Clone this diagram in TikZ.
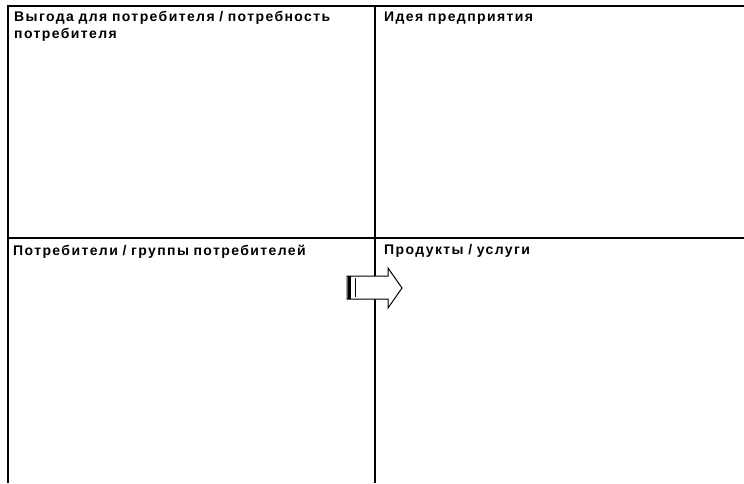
\documentclass[tikz,border=0pt]{standalone}
\usepackage{fontspec}
\setmainfont{Liberation Sans}
\newfontfamily\cellfont[LetterSpace=10]{Liberation Sans}
\usetikzlibrary{positioning}

\begin{document}
\begin{tikzpicture}[
  x=1pt, y=-1pt,
  cell/.style={
    anchor=north west,
    align=left,
    inner sep=0pt,
    text width=355pt,
    font=\cellfont\bfseries\fontsize{14}{17}\selectfont
  },
  grid/.style={line width=1.6pt},
  blockarrow/.style={draw, fill=white, line width=1pt, line join=miter}
]
\useasboundingbox (0,0) rectangle (744,483);

% Grid lines
\draw[grid] (8,483) -- (8,6) -- (744,6);
\draw[grid] (375,6) -- (375,483);
\draw[grid] (8,238) -- (744,238);

% Upper left
\node[cell] (benefit) at (14,11.5) {Выгода для потребителя / потребность\\потребителя};

% Upper right
\node[cell] (idea) at (384,11.5) {Идея предприятия};

% Lower left
\node[cell] (customers) at (13,244.5) {Потребители / группы потребителей};

% Lower right
\node[cell] (products) at (384,244.5) {Продукты / услуги};

% Arrow
\draw[blockarrow] (347,276) -- (388,276) -- (388,268) -- (402,288)
  -- (388,308) -- (388,299) -- (347,299) -- cycle;
\draw[line width=3pt] (349,276) -- (349,299);
\draw[line width=0.8pt] (355.5,278) -- (355.5,297);

\end{tikzpicture}
\end{document}
